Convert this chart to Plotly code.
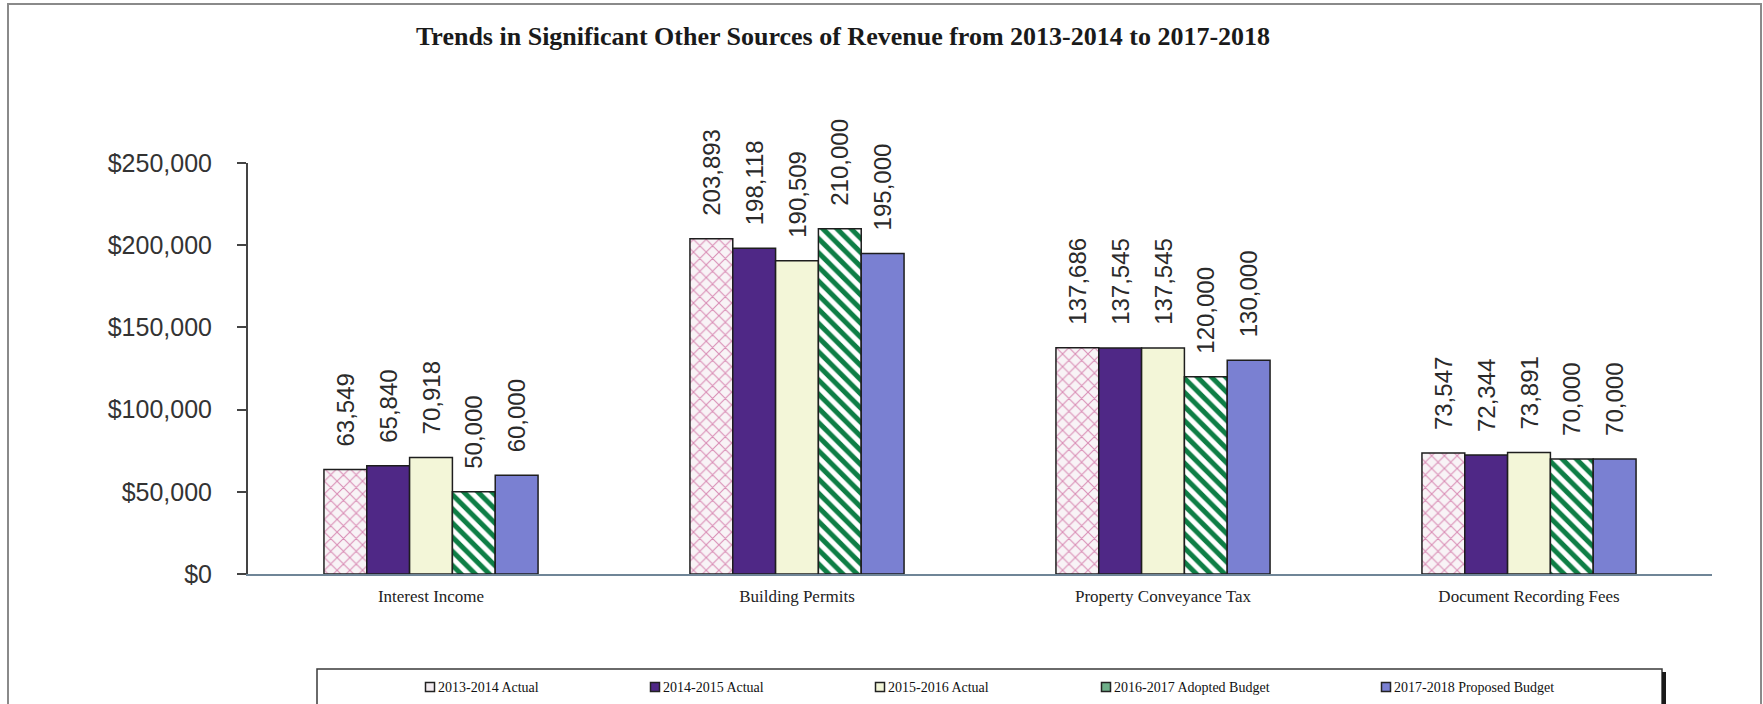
import plotly.graph_objects as go

# ---- data -------------------------------------------------------------
categories = ["Interest Income", "Building Permits",
              "Property Conveyance Tax", "Document Recording Fees"]
series_names = ["2013-2014 Actual", "2014-2015 Actual", "2015-2016 Actual",
                "2016-2017 Adopted Budget", "2017-2018 Proposed Budget"]
actual_2013_14 = [63549, 203893, 137686, 73547]
actual_2014_15 = [65840, 198118, 137545, 72344]
actual_2015_16 = [70918, 190509, 137545, 73891]
adopted_2016_17 = [50000, 210000, 120000, 70000]
proposed_2017_18 = [60000, 195000, 130000, 70000]
y_tickvals = [0, 50000, 100000, 150000, 200000, 250000]
y_ticktext = ["$0", "$50,000", "$100,000", "$150,000", "$200,000", "$250,000"]

series_values = [actual_2013_14, actual_2014_15, actual_2015_16,
                 adopted_2016_17, proposed_2017_18]

# ---- styling ----------------------------------------------------------
W, H = 1763, 704
ML, MR, MT, MB = 248, 51, 163, 130
PW, PH = W - ML - MR, H - MT - MB

styles = [
    dict(color="#F5EEF2", pattern=dict(shape="x", fgcolor="#D98CB5", fgopacity=1,
                                       bgcolor="#F8F3F6", size=9, solidity=0.22)),
    dict(color="#4F2886"),
    dict(color="#F3F6D8"),
    dict(color="#FFFFFF", pattern=dict(shape="\\", fgcolor="#0E7E45", fgopacity=1,
                                       bgcolor="#FFFFFF", size=10, solidity=0.5)),
    dict(color="#7A80D2"),
]
legend_swatch = ["#F3ECF0", "#4F2886", "#F3F6D8", "#6FB08A", "#7A80D2"]
legend_x_px = [430, 655, 880, 1106, 1386]


def px_x(px):
    return (px - ML) / PW


def px_y(py):
    return 1 - (py - MT) / PH


fig = go.Figure()
for name, vals, st in zip(series_names, series_values, styles):
    marker = dict(color=st["color"], line=dict(color="#1E1E1E", width=1.5))
    if "pattern" in st:
        marker["pattern"] = st["pattern"]
    fig.add_trace(go.Bar(
        name=name, x=categories, y=vals, marker=marker,
        texttemplate="\u00a0\u00a0\u00a0%{y:,.0f}",
        textposition="outside", textangle=-90, constraintext="none",
        cliponaxis=False,
        outsidetextfont=dict(family="Arial, Liberation Sans", size=24, color="#2A2A2A"),
        showlegend=False, hoverinfo="x+y+name",
    ))

shapes = [
    # page frame
    dict(type="rect", xref="paper", yref="paper",
         x0=px_x(8), x1=px_x(1761), y0=px_y(720), y1=px_y(4),
         line=dict(color="#8A8A8A", width=2), fillcolor="rgba(0,0,0,0)", layer="below"),
    # legend frame
    dict(type="rect", xref="paper", yref="paper",
         x0=px_x(317), x1=px_x(1662), y0=px_y(720), y1=px_y(669),
         line=dict(color="#3A3A3A", width=1.5), fillcolor="rgba(0,0,0,0)"),
    dict(type="line", xref="paper", yref="paper",
         x0=px_x(1664), x1=px_x(1664), y0=px_y(672), y1=px_y(720),
         line=dict(color="#1A1A1A", width=4)),
]
annotations = []
for name, sw, cx in zip(series_names, legend_swatch, legend_x_px):
    shapes.append(dict(type="rect", xref="paper", yref="paper",
                       x0=px_x(cx - 4.5), x1=px_x(cx + 4.5),
                       y0=px_y(691.5), y1=px_y(682.5),
                       line=dict(color="#222222", width=1.5), fillcolor=sw))
    annotations.append(dict(xref="paper", yref="paper", x=px_x(cx + 6), y=px_y(687),
                            xanchor="left", yanchor="middle", showarrow=False,
                            text=name,
                            font=dict(family="Liberation Serif, Times New Roman",
                                      size=14, color="#111111")))

fig.update_layout(
    width=W, height=H,
    margin=dict(l=ML, r=MR, t=MT, b=MB),
    paper_bgcolor="white", plot_bgcolor="white",
    barmode="group", bargap=0.415, bargroupgap=0,
    title=dict(text="<b>Trends in Significant Other Sources of Revenue from 2013-2014 to 2017-2018</b>",
               x=843 / W, xanchor="center", y=1 - 36 / H, yanchor="middle",
               font=dict(family="Liberation Serif, Times New Roman", size=26, color="#1A1A1A")),
    xaxis=dict(showline=True, linecolor="#6F8597", linewidth=2, ticks="",
               showgrid=False, zeroline=False,
               tickfont=dict(family="Liberation Serif, Times New Roman", size=17, color="#222222"),
               ticklabelstandoff=6),
    yaxis=dict(range=[0, 250000], tickvals=y_tickvals, ticktext=y_ticktext,
               showline=True, linecolor="#444444", linewidth=2,
               ticks="outside", ticklen=9, tickwidth=1.5, tickcolor="#444444",
               showgrid=False, zeroline=False,
               tickfont=dict(family="Arial, Liberation Sans", size=25, color="#333333"),
               ticklabelstandoff=20),
    shapes=shapes, annotations=annotations,
    showlegend=False,
)

fig.write_html("out.html")
